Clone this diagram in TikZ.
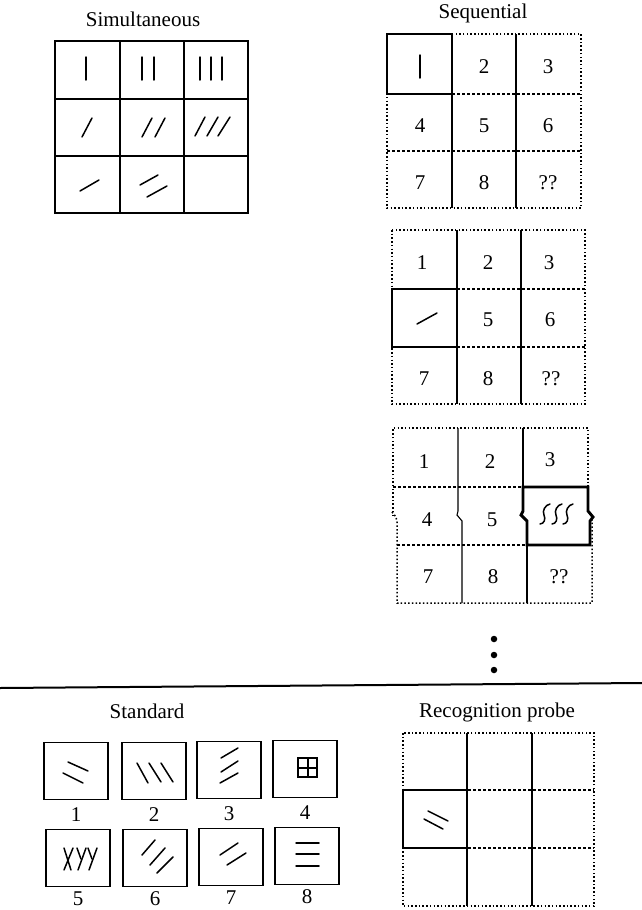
\documentclass[tikz,border=0pt]{standalone}
\usepackage{fontspec}
\setmainfont{Liberation Serif}
\usetikzlibrary{positioning}

\begin{document}
\begin{tikzpicture}[x=1pt, y=-1pt, node distance=7pt,
txt/.style={font=\fontsize{21}{25}\selectfont, inner sep=0pt},
grid/.style={line width=1.4pt},
thinline/.style={line width=1.1pt},
stroke/.style={line width=1.5pt, line cap=round},
heavy/.style={line width=2.9pt},
outer/.style={line width=1.5pt, dash pattern=on 1.5pt off 2.2pt},
inner/.style={line width=1.3pt, dash pattern=on 3pt off 2pt},
stdbox/.style={draw, line width=1.5pt, minimum width=64pt, minimum height=57pt, inner sep=0pt},
blob/.style={circle, fill, inner sep=0pt, minimum size=6.5pt}]
\useasboundingbox (0,0) rectangle (642,910);

% titles
\node [txt, anchor=base] (simtitle) at (143,26) {Simultaneous};
\node [txt, anchor=base] (seqtitle) at (483,19) {Sequential};
\node [txt, anchor=base] (stdtitle) at (147,718) {Standard};
\node [txt, anchor=base] (probetitle) at (497,717) {Recognition probe};

%%%%%%%%%%%%%% simultaneous grid
\draw[grid] (55,41) rectangle (248,213);
\draw[grid] (120,41) -- (120,213);
\draw[grid] (184,41) -- (184,213);
\draw[grid] (55,99) -- (248,99);
\draw[grid] (55,156) -- (248,156);
% vertical strokes
\draw[stroke] (86,57) -- (86,80);
\draw[stroke] (142,57) -- (142,80);
\draw[stroke] (154,57) -- (154,80);
\draw[stroke] (200,57) -- (200,80);
\draw[stroke] (211,57) -- (211,80);
\draw[stroke] (222,57) -- (222,80);
% slanted strokes
\draw[stroke] (82,137) -- (92,118);
\draw[stroke] (142,137) -- (152,118);
\draw[stroke] (155,137) -- (165,118);
\draw[stroke] (195,136) -- (205,117);
\draw[stroke] (207,136) -- (218,117);
\draw[stroke] (218,136) -- (230,117);
% flat strokes
\draw[stroke] (80,191) -- (99,180);
\draw[stroke] (140,185) -- (158,175);
\draw[stroke] (147,197) -- (167,186);

%%%%%%%%%%%%%% sequential, first step
\draw[outer] (387,34) rectangle (581,208);
\draw[thinline] (452,34) -- (452,208);
\draw[thinline] (516,34) -- (516,208);
\draw[inner] (387,94) -- (581,94);
\draw[inner] (387,151) -- (581,151);
\draw[heavy] (387,34) rectangle (452,94);
\draw[stroke] (420,55) -- (420,78);
\node [txt] (a2) at (484,67) {2};
\node [txt] (a3) at (548,67) {3};
\node [txt] (a4) at (420,126) {4};
\node [txt] (a5) at (484,126) {5};
\node [txt] (a6) at (548,126) {6};
\node [txt] (a7) at (420,183) {7};
\node [txt] (a8) at (484,183) {8};
\node [txt] (a9) at (548,183) {??};

%%%%%%%%%%%%%% sequential, fourth step
\draw[outer] (392,230) rectangle (585,404);
\draw[thinline] (457,230) -- (457,404);
\draw[thinline] (521,230) -- (521,404);
\draw[inner] (392,289) -- (585,289);
\draw[inner] (392,347) -- (585,347);
\draw[heavy] (392,289) rectangle (457,347);
\draw[stroke] (417,324) -- (437,313);
\node [txt] (b1) at (422,263) {1};
\node [txt] (b2) at (488,263) {2};
\node [txt] (b3) at (549,263) {3};
\node [txt] (b5) at (488,320) {5};
\node [txt] (b6) at (550,320) {6};
\node [txt] (b7) at (424,379) {7};
\node [txt] (b8) at (488,379) {8};
\node [txt] (b9) at (551,379) {??};

%%%%%%%%%%%%%% sequential, sixth step (pasted, lower half shifted)
\draw[outer] (393,516) -- (393,428) -- (588,428) -- (588,512);
\draw[outer] (392,512) -- (396,517) -- (397,522) -- (397,603) -- (592,603) -- (592,520);
\draw[thinline] (458,428) -- (458,511) -- (457,515) -- (462,521) -- (462,603);
\draw[thinline] (523,428) -- (523,487);
\draw[thinline] (527,545) -- (527,603);
\draw[inner] (393,487) -- (523,487);
\draw[inner] (397,545) -- (527,545);
\draw[heavy] (527,545) -- (590,545) -- (590,521) -- (593,517) -- (588,511) -- (588,487) -- (523,487) -- (523,511) -- (521,515) -- (527,521) -- cycle;
% squiggles
\draw[stroke] (540,524) .. controls (544,524) and (546,519) .. (544,515) .. controls (542,511) and (545,505) .. (550,504);
\draw[stroke] (552,524) .. controls (556,524) and (558,519) .. (556,515) .. controls (554,511) and (557,505) .. (562,504);
\draw[stroke] (563,524) .. controls (567,524) and (569,519) .. (567,515) .. controls (565,511) and (568,505) .. (573,504);
\node [txt] (c1) at (424,462) {1};
\node [txt] (c2) at (490,462) {2};
\node [txt] (c3) at (550,460) {3};
\node [txt] (c4) at (427,520) {4};
\node [txt] (c5) at (492,520) {5};
\node [txt] (c7) at (428,577) {7};
\node [txt] (c8) at (493,577) {8};
\node [txt] (c9) at (559,577) {??};

% more steps
\node [blob] (d1) at (494,639) {};
\node [blob] (d2) at (494,655) {};
\node [blob] (d3) at (494,670) {};

% separator
\draw[line width=2pt] (0,688) -- (642,683);

%%%%%%%%%%%%%% standard
\node [stdbox] (s1) at (76,771) {};
\node [stdbox] (s2) at (154,771) {};
\node [stdbox] (s3) at (229,770) {};
\node [stdbox] (s4) at (305,769) {};
\node [stdbox] (s5) at (78,858) {};
\node [stdbox] (s6) at (155,858) {};
\node [stdbox] (s7) at (231,857) {};
\node [stdbox] (s8) at (307,856) {};
\node [txt, below = of s1] (n1) {1};
\node [txt, below = of s2] (n2) {2};
\node [txt, below = of s3] (n3) {3};
\node [txt, below = of s4] (n4) {4};
\node [txt, below = 4pt of s5] (n5) {5};
\node [txt, below = 4pt of s6] (n6) {6};
\node [txt, below = 4pt of s7] (n7) {7};
\node [txt, below = 4pt of s8] (n8) {8};
% box contents
\draw[stroke] (68,762) -- (88,771);
\draw[stroke] (63,773) -- (83,783);
\draw[stroke] (137,763) -- (148,783);
\draw[stroke] (149,763) -- (161,782);
\draw[stroke] (161,763) -- (173,782);
\draw[stroke] (221,758) -- (238,748);
\draw[stroke] (221,772) -- (238,761);
\draw[stroke] (220,783) -- (238,773);
\draw[line width=2pt] (298,758) rectangle (317,777);
\draw[line width=2pt] (307.5,758) -- (307.5,777);
\draw[line width=2pt] (298,767.5) -- (317,767.5);
\draw[stroke] (64,848) -- (71,870);
\draw[stroke] (73,848) -- (64,870);
\draw[stroke] (86,848) -- (78,870);
\draw[stroke] (77,848) -- (81,859);
\draw[stroke] (97,848) -- (89,870);
\draw[stroke] (88,848) -- (92,859);
\draw[stroke] (142,855) -- (155,840);
\draw[stroke] (150,865) -- (165,848);
\draw[stroke] (157,873) -- (173,857);
\draw[stroke] (220,855) -- (238,843);
\draw[stroke] (227,865) -- (246,853);
\draw[stroke] (296,843) -- (319,843);
\draw[stroke] (296,854) -- (319,854);
\draw[stroke] (296,866) -- (319,866);

%%%%%%%%%%%%%% recognition probe
\draw[outer] (403,733) rectangle (594,906);
\draw[thinline] (467,733) -- (467,906);
\draw[thinline] (532,733) -- (532,906);
\draw[inner] (403,790) -- (594,790);
\draw[inner] (403,848) -- (594,848);
\draw[heavy] (403,790) rectangle (467,848);
\draw[stroke] (428,811) -- (448,821);
\draw[stroke] (424,819) -- (443,829);

\end{tikzpicture}
\end{document}
